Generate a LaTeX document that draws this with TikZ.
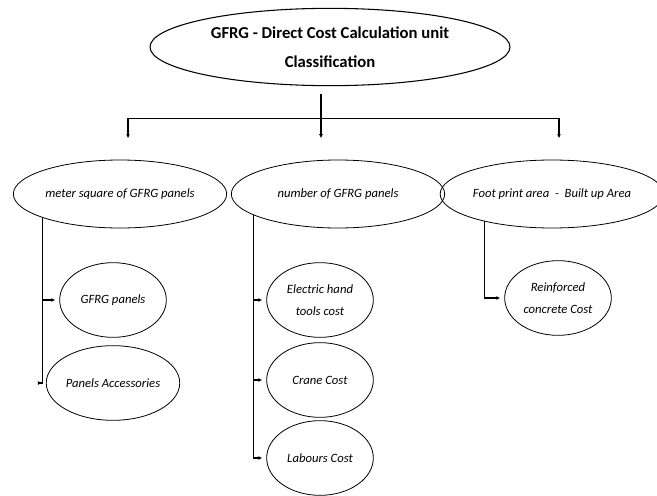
\documentclass[tikz,border=0pt]{standalone}
\usepackage{fontspec}
\setmainfont{Carlito}
\usetikzlibrary{shapes.geometric, arrows.meta, positioning}

\begin{document}
\begin{tikzpicture}[
        x=0.75pt, y=-0.75pt,
        head/.style={ellipse, draw, thick, minimum width=270pt, minimum height=58pt, inner sep=0pt, align=center, font=\fontsize{12.5}{22}\selectfont\bfseries},
        cat/.style={ellipse, draw, semithick, minimum width=160pt, minimum height=51pt, inner sep=0pt, align=center, font=\fontsize{9.5}{11}\selectfont\itshape},
        leaf/.style={ellipse, draw, semithick, minimum width=80pt, minimum height=56pt, inner sep=0pt, align=center, font=\fontsize{9.5}{17}\selectfont\itshape},
        arrow/.style={-{Latex[length=3pt,width=3pt]}, thick, shorten >=3pt}
    ]
        \useasboundingbox (0,0) rectangle (657,496);

        \node[head] (top) at (330,47) {GFRG - Direct Cost Calculation unit\\Classification};

        \node[cat] (meter) at (120,194) {meter square of GFRG panels};
        \node[cat] (number) at (338,194) {number of GFRG panels};
        \node[cat] (foot) at (552,194) {Foot print area \ - \ Built up Area};

        \node[leaf, below of=meter, node distance=79.5pt, xshift=-5.25pt] (gfrg) {GFRG panels};
        \node[leaf, below of=gfrg, node distance=62.25pt] (acc) {Panels Accessories};
        \node[leaf, below of=number, node distance=79.5pt, xshift=-13.5pt] (elec) {Electric hand\\tools cost};
        \node[leaf, below of=elec, node distance=60pt] (crane) {Crane Cost};
        \node[leaf, below of=crane, node distance=58.5pt] (labour) {Labours Cost};
        \node[leaf, below of=foot, node distance=78pt, xshift=4.5pt] (rc) {Reinforced\\concrete Cost};

        % main bus
        \draw[thick] ([xshift=-6.75pt,yshift=-6pt]top.south) -- ++(0,-18pt) coordinate (bus);
        \draw[arrow, shorten >=0pt] (bus) -- ++(0,-15pt);
        \draw[arrow, shorten >=0pt] (bus) -| ([xshift=6pt,yshift=16pt]meter.north);
        \draw[arrow, shorten >=0pt] (bus) -| ([xshift=5.25pt,yshift=16pt]foot.north);

        % branches
        \draw[arrow] (meter.197) |- (gfrg.west);
        \draw[arrow] (meter.197) |- (acc.west);
        \draw[arrow] (number.194) |- (elec.west);
        \draw[arrow] (number.194) |- (crane.west);
        \draw[arrow] (number.194) |- (labour.west);
        \draw[arrow] (foot.202) |- (rc.west);

    \end{tikzpicture}
\end{document}
